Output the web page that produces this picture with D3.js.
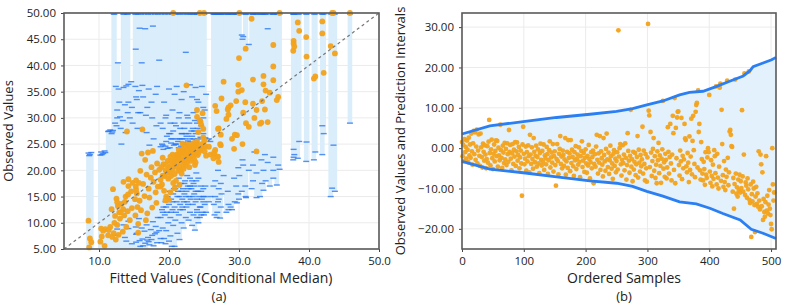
<!DOCTYPE html>
<html><head><meta charset="utf-8">
<script src="https://cdn.jsdelivr.net/npm/d3@7"></script>
<style>
body{margin:0;background:#fff}
svg{display:block}
text{font-family:"Open Sans",sans-serif;fill:#222}
</style>
</head><body>
<svg id="chart" width="785" height="303"></svg>
<script>
// ---------- Panel (a): per-sample fitted median, interval bounds, observed ----------
const leftFitted = [
 8.5,8.7,8.6,8.9,10.3,10.6,10.8,10.4,10.9,10.2,
 11.4,11.6,11.9,12.1,12.2,12.0,12.4,12.6,12.7,12.9,
 12.3,12.8,12.5,13.0,13.45,13.5,13.6,13.8,13.9,14.0,
 14.1,14.2,14.15,13.4,13.7,14.4,13.2,14.2,14.6,14.7,
 15.15,15.25,15.2,15.3,15.4,15.5,15.6,15.7,15.8,15.9,
 16.0,16.1,16.2,16.3,16.5,16.6,16.7,16.8,17.0,17.1,
 17.2,17.4,17.5,17.7,17.8,18.0,18.1,18.3,18.4,18.6,
 13.1,12.6,15.3,14.8,11.8,16.9,17.6,18.2,11.3,15.6,
 18.8,18.9,19.0,19.1,19.2,19.3,19.4,19.5,19.6,19.7,
 19.8,19.9,20.0,20.0,20.1,20.2,20.3,20.4,20.5,20.6,
 20.6,20.7,20.8,20.9,21.0,21.0,21.1,21.2,21.3,21.4,
 21.5,21.6,21.7,21.8,21.9,22.0,22.0,22.1,22.2,22.3,
 22.4,22.5,22.5,22.6,22.7,22.8,22.9,23.0,23.0,23.1,
 23.2,23.3,23.4,23.5,23.5,23.6,23.7,23.8,23.9,24.0,
 24.1,24.2,24.3,24.4,24.5,24.6,24.7,24.8,24.9,25.0,
 25.1,25.05,25.3,24.4,19.5,20.2,20.8,21.5,19.1,18.8,
 21.9,22.6,23.9,21.4,24.0,24.0,24.5,24.9,24.9,23.0,
 21.2,21.8,22.2,22.8,23.3,23.6,24.2,24.6,20.5,20.9,
 22.1,22.7,23.4,24.0,19.6,20.3,21.6,22.4,23.8,25.2,
 25.7,25.9,26.4,26.9,26.6,26.8,27.0,27.1,26.35,27.4,
 26.6,27.3,27.5,27.8,27.1,27.0,27.4,28.5,28.4,28.5,
 29.3,29.4,29.7,29.6,29.9,29.9,30.0,30.05,30.4,30.5,
 30.95,30.9,31.0,31.4,31.8,32.0,32.0,32.5,32.5,33.0,
 33.2,33.3,33.5,33.5,33.8,33.7,34.1,34.4,34.9,34.9,
 34.9,35.4,35.6,35.8,28.2,28.8,26.5,29.0,30.6,32.2,
 37.75,37.8,37.9,38.4,38.6,39.6,39.65,40.7,40.9,41.9,
 41.9,42.1,43.1,43.3,43.5,43.7,45.85,37.8
];
const leftLower = [
 5,5,5,5,5,5,5,5,5,5,
 5.0,5.0,5.0,5.0,5.0,5.0,5.0,8.8,5.0,5.0,
 5.0,5.0,7.6,5.0,5.0,9.6,5.0,5.0,6.5,5.0,
 5.0,10.3,5.0,5.0,7.2,5.0,5.0,8.9,5.0,6.0,
 5.0,9.2,5.0,6.3,8.0,5.0,5.0,10.8,6.6,5.5,
 5.0,9.0,6.9,5.6,8.4,6.1,5.0,9.6,7.2,6.4,
 5.8,8.7,6.8,10.2,5.6,7.9,9.3,6.2,11.0,8.5,
 5.0,5.0,7.8,5.0,5.0,6.7,7.6,8.2,5.0,5.0,
 11.0,6.2,12.5,9.0,13.0,7.0,11.5,14.0,8.5,12.0,
 15.0,10.0,13.5,6.5,16.0,11.0,14.5,5.5,12.5,15.5,
 9.5,16.5,13.0,10.5,17.0,12.0,14.0,8.0,16.0,11.5,
 15.0,13.5,17.5,10.0,14.5,16.5,12.5,9.0,15.5,18.0,
 11.0,13.0,16.0,14.0,17.0,10.5,15.0,12.0,18.5,14.5,
 16.5,9.5,13.5,17.5,11.5,15.5,8.6,14.0,18.0,12.5,
 16.0,10.0,15.0,13.0,17.0,11.5,14.5,12.0,16.5,11.5,
 13.5,15.0,12.0,11.0,6.0,7.5,5.5,6.8,12.0,7.0,
 13.0,19.0,19.5,18.5,11.0,12.0,13.0,14.0,15.0,17.0,
 15.0,16.0,17.5,16.5,18.0,17.0,18.5,16.0,14.0,16.5,
 14.0,13.5,15.0,14.5,13.0,12.0,12.5,15.0,16.0,17.0,
 14.0,15.0,13.5,12.0,15.0,11.0,14.0,16.5,17.0,13.0,
 18.0,10.9,15.5,19.0,14.5,20.0,17.5,13.5,16.0,12.5,
 18.5,14.0,13.8,17.0,15.5,20.5,14.5,19.0,16.0,22.0,
 15.0,17.0,14.8,20.0,16.5,18.0,21.0,14.8,19.5,15.0,
 22.0,17.5,16.2,20.0,18.0,23.0,21.5,17.0,18.5,22.5,
 20.0,17.2,21.0,20.2,12.0,13.0,11.5,12.5,21.0,23.5,
 22.0,24.0,23.0,22.3,25.5,21.7,25.4,22.0,23.5,23.0,
 28.5,27.0,15.0,16.6,24.8,16.0,29.0,22.5
];
const leftUpper = [
 23.3,23.0,22.8,23.4,23.5,23.2,23.7,23.0,23.4,22.9,
 27.5,27.7,27.3,50,50,27.6,36.0,31.5,40.5,33.0,
 29.0,35.5,28.5,30.2,50,35.8,50,27.2,36.1,50,
 31.0,36.4,50,29.5,32.5,30.0,25.0,33.0,36.9,32.0,
 50,43.1,36.0,50,33.5,28.0,50,35.2,47.1,31.0,
 50,40.5,36.2,34.0,50,47.0,30.5,27.2,50,35.5,
 24.8,50,33.0,47.5,26.0,50,34.5,36.0,50,41.0,
 28.0,30.0,34.0,29.0,27.0,32.0,30.0,28.5,27.4,31.0,
 24.5,50,25.0,28.0,24.0,33.0,50,24.6,30.5,26.5,
 24.2,50,27.0,35.5,24.3,29.0,25.2,50,31.5,50,
 27.5,24.8,34.5,50,25.0,28.5,36.0,50,25.5,30.0,
 26.0,50,24.6,33.5,27.0,25.3,50,35.0,28.0,25.0,
 42.5,50,26.5,30.5,25.6,50,29.0,36.3,25.4,50,
 27.5,34.0,50,26.0,31.0,50,29.5,35.8,25.8,50,
 28.0,33.0,50,29.5,26.3,50,36.0,50,27.0,50,
 31.5,50,34.5,50,30.0,27.0,29.0,31.0,24.8,29.0,
 26.0,24.9,25.3,24.3,33.5,50,50,32.0,30.0,26.0,
 26.0,27.0,26.0,27.0,26.5,27.5,26.0,28.5,26.0,25.0,
 29.0,30.0,28.0,29.0,25.5,26.0,28.0,27.0,27.0,26.2,
 26.0,25.5,50,50,50,50,50,50,50,50,
 50,50,50,50,50,50,50,50,50,50,
 50,50,50,50,50,50,50,50,45.8,45.0,
 50,50,50,44.0,50,50,50,50,50,50,
 50,50,50,50,50,50,47.0,50,50,50,
 50,50,50,50,50,50,50,50,45.5,50,
 50,50,50,50,50,50,50,50,50,50,
 50,50,50,50,50,50,50,50
];
const leftObserved = [
 10.4,7.0,5.3,6.3,8.9,8.5,5.6,7.4,8.8,6.4,
 8.6,9.2,7.3,8.0,10.0,16.4,6.8,9.6,13.2,12.0,
 11.3,7.7,14.6,10.8,12.6,17.8,11.4,15.0,9.2,27.4,
 12.2,17.0,15.4,8.3,14.0,10.5,13.6,18.3,16.0,12.8,
 14.5,16.9,11.4,18.1,15.6,13.0,8.1,17.6,14.2,19.9,
 12.4,23.2,27.8,17.4,15.1,22.0,10.5,19.2,23.4,16.5,
 14.8,18.6,20.6,23.7,17.8,19.6,15.8,21.3,16.9,20.1,
 12.0,13.9,16.3,17.6,12.6,11.8,12.9,13.8,7.6,9.8,
 18.2,20.6,17.3,19.0,21.2,16.1,18.9,20.0,15.0,19.5,
 21.8,18.4,20.5,14.4,19.7,22.6,18.9,21.0,20.2,50.0,
 17.6,21.4,19.3,22.1,20.8,18.0,23.0,21.6,19.9,22.4,
 20.7,23.3,21.9,19.4,22.8,21.2,24.0,20.3,23.5,22.0,
 20.9,36.2,23.9,21.5,22.7,24.5,20.6,23.2,22.3,24.8,
 21.8,23.7,22.6,24.3,25.2,23.0,21.0,24.6,23.4,25.5,
 22.9,27.3,24.1,29.5,23.8,28.7,25.0,30.9,24.4,50.0,
 23.6,25.7,22.8,50.0,14.3,15.8,16.6,17.2,22.4,16.9,
 25.1,24.9,25.0,23.9,31.5,30.2,29.3,27.9,26.3,24.2,
 22.9,23.6,24.4,23.1,24.0,22.1,23.3,24.2,23.0,22.5,
 21.7,22.0,23.8,24.7,21.0,21.8,20.1,22.9,21.5,24.6,
 24.5,23.0,23.2,22.6,32.3,31.3,22.6,21.6,22.3,24.8,
 23.9,25.0,33.7,36.9,28.0,27.9,26.8,32.0,31.6,30.6,
 24.1,26.8,26.7,33.2,36.3,35.0,41.4,50.0,35.3,25.0,
 43.2,33.0,29.0,28.3,48.9,37.3,32.7,31.5,23.6,28.9,
 29.1,33.2,38.0,36.4,35.2,31.6,29.2,34.8,43.9,39.8,
 37.2,33.4,34.0,50.0,29.8,32.4,23.5,26.0,31.0,30.0,
 42.8,44.7,43.6,48.2,46.6,45.4,41.7,37.5,37.9,48.4,
 46.1,38.6,43.7,50.0,50.0,42.3,50.0,44.2
];
const leftXTicks = [10, 20, 30, 40, 50];
const leftYTicks = [5, 10, 15, 20, 25, 30, 35, 40, 45, 50];

// ---------- Panel (b): centred intervals ordered by width ----------
const upperRanks = [0,45,99,153,207,250,276,299,325,352,368,390,412,433,455,466,471,487,501,508];
const upperBound = [3.5,5.5,6.6,7.6,8.4,9.1,9.8,10.7,11.7,13.2,13.8,14.1,15.3,16.6,17.9,19.2,20.2,21.1,21.9,22.5];
const lowerRanks = [0,45,99,153,207,250,276,299,325,352,379,401,422,450,468,487,508];
const lowerBound = [-3.3,-5.2,-6.1,-7.1,-8.1,-8.7,-9.5,-10.7,-11.9,-13.3,-13.8,-14.9,-16.2,-17.8,-20.1,-21.1,-22.4];
// centred observed value for each ordered sample (index = rank)
const rightObserved = [
 1.5,-2.0,0.8,-3.2,2.2,-1.0,0.3,-2.6,1.9,-0.4,
 -3.5,2.6,-1.8,0.9,-2.4,3.6,-0.8,-4.1,1.2,4.3,
 -1.5,3.9,-2.9,0.4,4.6,-3.8,-0.6,3.4,-1.9,-4.4,
 3.6,0.2,-2.2,-4.8,1.1,-0.9,-3.1,0.7,-1.6,-5.0,
 -2.7,0.5,-3.6,1.6,7.0,-1.2,-4.3,-0.3,2.1,-2.5,
 -5.2,-1.4,0.9,-3.3,-0.7,1.9,-2.0,1.8,-4.6,0.1,
 -1.8,-3.0,5.8,-0.5,-2.4,-4.9,0.6,-1.1,-3.7,1.3,
 -2.8,-0.2,-4.2,1.2,-1.5,-3.4,4.5,-0.9,0.8,-2.6,
 -5.5,-1.3,1.0,-3.9,-0.4,-2.1,1.5,-4.4,-0.8,1.4,
 -3.1,-1.7,0.3,-5.0,-2.3,-0.6,-3.8,-11.8,0.9,5.3,
 -1.4,-4.0,-2.6,0.4,-5.6,-1.0,-3.3,0.7,-2.0,-6.0,
 3.3,-1.6,-3.9,0.2,-2.7,-5.1,2.5,-0.9,-3.5,-1.9,
 0.6,-4.6,-2.2,-0.3,-3.8,-6.2,-1.2,1.1,-2.9,-4.3,
 -0.7,-3.4,0.9,-5.4,-1.8,-2.5,-4.0,0.3,-1.5,-6.4,
 -3.0,-0.5,1.7,-4.8,-2.3,-1.1,-3.6,1.0,-5.8,-2.0,
 -0.8,-4.2,-9.3,-2.7,1.0,-3.2,-6.5,-1.4,-0.2,3.0,
 -3.9,-2.1,-5.0,-0.6,-1.7,-4.4,-2.8,2.5,-6.6,-3.3,
 -0.9,-4.9,2.0,-2.4,-1.3,-5.7,2.0,-3.7,-0.4,-2.2,
 -4.5,-6.9,-1.0,-3.0,0.5,-5.2,-2.6,-1.6,-4.1,0.2,
 -3.4,-7.2,-2.0,-0.7,1.7,-4.7,-3.1,-1.2,-5.9,-2.4,
 -0.3,-3.8,-6.1,-1.9,-4.3,0.8,-2.7,-7.5,-3.5,-1.0,
 -5.0,-2.2,-0.6,-8.7,-3.9,-1.5,-4.6,0.4,3.3,-2.9,
 -6.3,-1.3,-3.6,3.0,-5.4,-0.8,-2.5,-4.1,-7.0,2.5,
 -1.7,-3.3,-5.6,-0.2,3.6,-2.8,-4.7,-1.1,-6.4,-3.0,
 0.6,-2.0,-5.1,-3.8,-7.6,-1.4,-0.5,-4.4,-2.6,-6.0,
 -3.2,-1.0,-5.3,29.2,-2.1,0.0,1.0,-4.0,-6.8,-2.9,
 0.7,-3.7,-1.6,-5.5,1.2,-2.4,-7.8,-4.2,3.7,-0.7,
 -3.1,-6.1,-1.9,9.5,-4.6,-2.7,-8.2,-0.9,-5.3,-3.4,
 -1.2,-6.7,-4.0,-2.2,3.0,-7.3,-0.4,-3.6,-5.8,-1.7,
 -4.5,-2.8,5.3,-6.3,-0.6,-3.9,-8.0,-1.5,-5.0,-8.3,
 -2.3,30.8,9.3,8.1,-4.7,4.0,-1.1,-6.9,-3.2,-0.2,
 2.5,-5.6,-2.0,-7.4,-4.1,-8.7,-0.8,-3.0,1.3,-6.2,
 -1.8,-4.4,-8.6,-2.6,-0.3,11.7,-5.1,-3.5,-7.1,-1.4,
 -2.9,-7.5,-4.8,5.2,-0.9,-6.3,-2.2,6.0,-3.8,-8.0,
 -1.6,8.0,3.7,-5.4,12.4,-8.7,5.0,-2.5,7.6,9.0,
 9.1,-4.2,-6.8,-0.6,-3.3,7.5,-7.7,-1.9,-5.0,-2.8,
 6.0,2.4,2.0,-4.5,-6.0,-1.2,-3.6,-8.4,2.9,-5.4,
 -2.1,7.3,-6.5,1.8,8.0,-0.5,-3.9,-7.2,9.0,10.7,
 11.2,-4.8,14.3,4.0,6.0,-5.5,-7.8,1.5,-2.7,-6.3,
 -8.0,-3.4,-5.2,-9.1,-1.0,-6.6,-7.4,-2.3,0.0,-1.0,
 13.2,-5.8,-8.6,-3.0,-6.9,-9.5,-4.1,-7.6,-0.5,-2.0,
 -6.2,15.3,-9.0,-1.4,-7.3,-10.0,-4.6,15.0,16.0,-8.1,
 9.5,1.0,-6.7,-9.6,-3.2,-8.4,-10.4,-5.3,-7.1,16.7,
 -2.4,-9.2,-6.0,4.1,4.5,3.3,0.5,0.3,-10.8,-7.4,
 -15.0,-8.9,17.0,-6.3,-11.3,-9.7,-12.0,-7.8,-10.5,-6.6,
 -11.0,-8.2,-9.9,9.4,-7.0,-10.8,-1.6,18.5,-11.6,-8.5,
 -9.3,-12.3,-7.5,-10.2,19.0,-12.8,-13.6,-9.0,-22.0,-11.4,
 -13.2,-8.3,-10.0,-14.1,-20.8,-12.0,-9.6,-13.8,-11.2,-14.5,
 -0.8,-13.0,-15.2,-1.6,-4.0,-14.4,-6.0,-17.8,-12.6,-15.8,
 -17.0,-13.4,-2.0,-15.5,-11.8,-16.2,-14.0,-10.4,-15.0,-16.6,
 -18.8,-20.1,0.0,-9.0,-13.0,-11.0
];
const rightXTicks = [0, 100, 200, 300, 400, 500];
const rightYTicks = [-20, -10, 0, 10, 20, 30];

// ---------- drawing ----------
const svg = d3.select("#chart");
const C = {bar:"#d9edfb", dash:"#1f6ff2", dot:"#f3a21b", line:"#2b7ff2", band:"#e2f1fc",
           grid:"#ebebeb", frame:"#5a5a5a"};

function gridLines(g, x, y, L, R, T, B, xTicks, yTicks) {
  g.append("g").selectAll("line").data(xTicks).join("line")
    .attr("x1", d => x(d)).attr("x2", d => x(d)).attr("y1", T).attr("y2", B)
    .attr("stroke", C.grid).attr("stroke-width", 1);
  g.append("g").selectAll("line").data(yTicks).join("line")
    .attr("y1", d => y(d)).attr("y2", d => y(d)).attr("x1", L).attr("x2", R)
    .attr("stroke", C.grid).attr("stroke-width", 1);
}
function drawAxes(g, x, y, L, R, T, B, xTicks, yTicks, xFmt, yFmt) {
  const ax = g.append("g").attr("transform", `translate(0,${B})`)
    .call(d3.axisBottom(x).tickValues(xTicks).tickFormat(xFmt).tickSize(3).tickPadding(5));
  const ay = g.append("g").attr("transform", `translate(${L},0)`)
    .call(d3.axisLeft(y).tickValues(yTicks).tickFormat(yFmt).tickSize(3).tickPadding(5));
  [ax, ay].forEach(a => {
    a.select(".domain").remove();
    a.selectAll(".tick line").attr("stroke", "#444");
    a.selectAll(".tick text").attr("font-size", 11.5).attr("fill", "#222")
      .attr("font-family", '"DejaVu Sans", sans-serif');
  });
  g.append("rect").attr("x", L).attr("y", T).attr("width", R - L).attr("height", B - T)
    .attr("fill", "none").attr("stroke", C.frame).attr("stroke-width", 1.6);
}

// Panel (a)
(function () {
  const L = 64, R = 379, T = 13, B = 249;
  const x = d3.scaleLinear().domain([5, 50]).range([L, R]);
  const y = d3.scaleLinear().domain([5, 50]).range([B, T]);
  const rows = leftFitted.map((f, i) => ({f, lo: leftLower[i], up: leftUpper[i], obs: leftObserved[i]}));
  const g = svg.append("g");
  gridLines(g, x, y, L, R, T, B, leftXTicks, leftYTicks);
  const bw = 4.6;
  g.append("g").selectAll("rect").data(rows).join("rect")
    .attr("x", d => x(d.f) - bw / 2).attr("width", bw)
    .attr("y", d => y(d.up)).attr("height", d => y(d.lo) - y(d.up))
    .attr("fill", C.bar);
  const dashes = rows.flatMap(d => [{f: d.f, v: d.lo}, {f: d.f, v: d.up}])
    .filter(d => d.v > 5.05);
  g.append("g").selectAll("line").data(dashes).join("line")
    .attr("x1", d => x(d.f) - 3).attr("x2", d => x(d.f) + 3)
    .attr("y1", d => y(d.v) + (d.v >= 50 ? 1 : 0)).attr("y2", d => y(d.v) + (d.v >= 50 ? 1 : 0))
    .attr("stroke", C.dash).attr("stroke-width", 1.4).attr("opacity", 0.75);
  g.append("g").selectAll("circle").data(rows).join("circle")
    .attr("cx", d => x(d.f)).attr("cy", d => y(d.obs)).attr("r", 2.9)
    .attr("fill", C.dot).attr("opacity", 0.95);
  g.append("line").attr("x1", x(5)).attr("y1", y(5)).attr("x2", x(50)).attr("y2", y(50))
    .attr("stroke", "#777").attr("stroke-width", 1.2).attr("stroke-dasharray", "3,3");
  drawAxes(g, x, y, L, R, T, B, leftXTicks, leftYTicks, d3.format(".1f"), d3.format(".2f"));
  svg.append("text").attr("x", 221).attr("y", 283).attr("text-anchor", "middle")
    .attr("font-size", 14).text("Fitted Values (Conditional Median)");
  svg.append("text").attr("x", 219).attr("y", 300.5).attr("text-anchor", "middle")
    .attr("font-size", 13).text("(a)");
  svg.append("text").attr("transform", "translate(13,131) rotate(-90)").attr("text-anchor", "middle")
    .attr("font-size", 13).text("Observed Values");
})();

// Panel (b)
(function () {
  const L = 462, R = 776, T = 13, B = 249;
  const x = d3.scaleLinear().domain([0, 508]).range([L, R]);
  const y = d3.scaleLinear().domain([-25, 33.5]).range([B, T]);
  const g = svg.append("g");
  gridLines(g, x, y, L, R, T, B, rightXTicks, rightYTicks);
  const up = upperRanks.map((r, i) => [x(r), y(upperBound[i])]);
  const lo = lowerRanks.map((r, i) => [x(r), y(lowerBound[i])]);
  const line = d3.line();
  g.append("path").attr("d", line(up.concat(lo.slice().reverse())) + "Z")
    .attr("fill", C.band);
  g.append("g").selectAll("circle").data(rightObserved).join("circle")
    .attr("cx", (d, i) => x(i)).attr("cy", d => y(d)).attr("r", 2.4)
    .attr("fill", C.dot).attr("opacity", 0.95);
  [up, lo].forEach(p => g.append("path").attr("d", line(p))
    .attr("fill", "none").attr("stroke", C.line).attr("stroke-width", 2.8));
  drawAxes(g, x, y, L, R, T, B, rightXTicks, rightYTicks, d3.format("d"), d3.format(".2f"));
  svg.append("text").attr("x", 624).attr("y", 283).attr("text-anchor", "middle")
    .attr("font-size", 14).text("Ordered Samples");
  svg.append("text").attr("x", 624).attr("y", 300.5).attr("text-anchor", "middle")
    .attr("font-size", 13).text("(b)");
  svg.append("text").attr("transform", "translate(405,131) rotate(-90)").attr("text-anchor", "middle")
    .attr("font-size", 13).text("Observed Values and Prediction Intervals");
})();
</script>
</body></html>
